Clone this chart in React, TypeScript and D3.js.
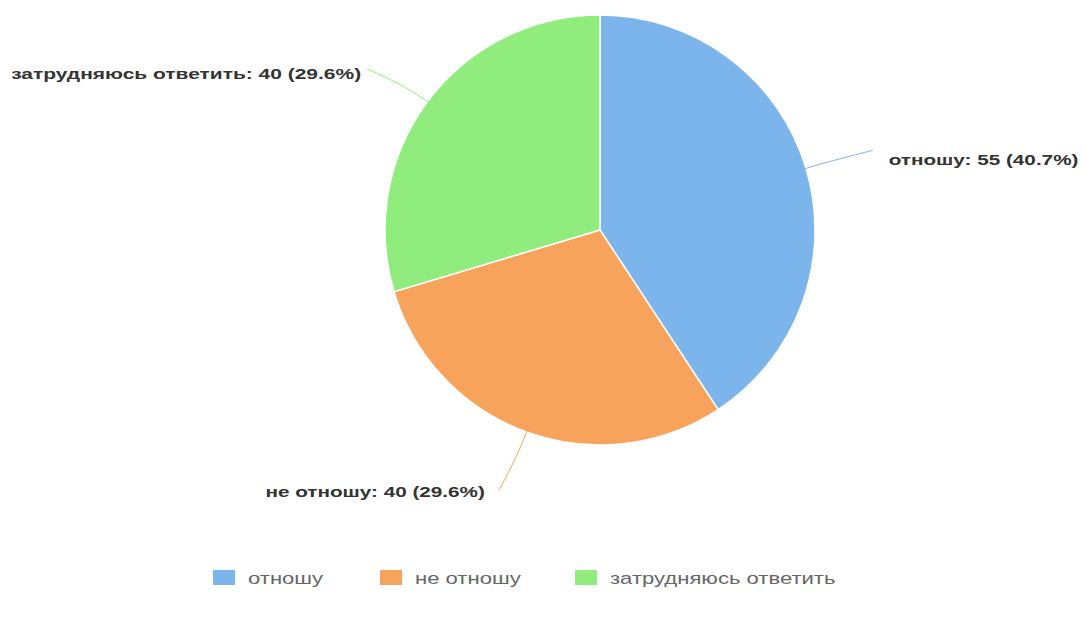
import React from "react";
import * as d3 from "d3";

const categories = ["отношу", "не отношу", "затрудняюсь ответить"];
const values = [55, 40, 40];
const colors = ["#7cb5ec", "#f7a35c", "#90ed7d"];

const W = 1086, H = 623;
const cx = 600, cy = 230, R = 215;
const SX = 1.38; // horizontal stretch of text as in the reference

export default function App() {
  const total = d3.sum(values);
  const pie = d3.pie<number>().sort(null).value((d) => d)(values);
  const arc = d3.arc<d3.PieArcDatum<number>>().innerRadius(0).outerRadius(R);
  const pt = (a: number, r: number) => [Math.sin(a) * r, -Math.cos(a) * r];

  const labelCfg = [
    { ext: 1.13, dx: 40, dy: -10, anchor: "start", gap: 16, ty: 15, fs: 15 },
    { ext: 1.13, dx: -18, dy: 32, anchor: "end", gap: 14, ty: 7, fs: 15 },
    { ext: 1.13, dx: -38, dy: -16, anchor: "end", gap: 6, ty: 10, fs: 15.2 },
  ];

  const legendX = d3.scaleOrdinal<string, number>().domain(categories).range([213, 380, 575]);

  return (
    <svg width={W} height={H} style={{ position: "absolute", left: 0, top: 0, background: "#fff" }}
      fontFamily="'Liberation Sans', Arial, sans-serif">
      <g transform={`translate(${cx},${cy})`}>
        {pie.map((p, i) => (
          <path key={i} d={arc(p) || ""} fill={colors[i]} stroke="#fff" strokeWidth={1.5} />
        ))}
        {pie.map((p, i) => {
          const mid = (p.startAngle + p.endAngle) / 2;
          const c = labelCfg[i];
          const [x0, y0] = pt(mid, R - 2);
          const [x1, y1] = pt(mid, R * c.ext);
          const x2 = x1 + c.dx, y2 = y1 + c.dy;
          const pct = ((values[i] / total) * 100).toFixed(1);
          const tx = c.anchor === "start" ? x2 + c.gap : x2 - c.gap;
          return (
            <g key={"l" + i}>
              <path d={`M${x0},${y0} Q${x1},${y1} ${x2},${y2}`} fill="none" stroke={colors[i]} strokeWidth={1} />
              <g transform={`translate(${tx},${y2 + c.ty}) scale(${SX},1)`}>
                <text x={0} y={0} textAnchor={c.anchor} fontSize={c.fs} fontWeight="bold" fill="#333">
                  {`${categories[i]}: ${values[i]} (${pct}%)`}
                </text>
              </g>
            </g>
          );
        })}
      </g>
      <g>
        {categories.map((c, i) => (
          <g key={c} transform={`translate(${legendX(c)},570)`}>
            <rect x={0} y={0} width={22} height={15} fill={colors[i]} />
            <g transform={`translate(35,13.5) scale(${SX},1)`}>
              <text x={0} y={0} fontSize={16} fill="#666">{c}</text>
            </g>
          </g>
        ))}
      </g>
    </svg>
  );
}
